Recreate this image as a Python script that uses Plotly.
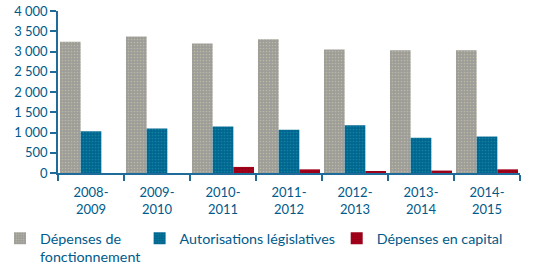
import plotly.graph_objects as go

# fiscal years
years = ['2008-<br>2009', '2009-<br>2010', '2010-<br>2011', '2011-<br>2012',
         '2012-<br>2013', '2013-<br>2014', '2014-<br>2015']

# values
fonctionnement = [3240, 3370, 3200, 3300, 3050, 3030, 3030]
legislatives = [1030, 1100, 1150, 1070, 1180, 870, 900]
capital = [0, 0, 150, 90, 30, 60, 90]

text_col = '#005a8a'
axis_col = '#1f6c9a'
font_name = 'Lato'

fig = go.Figure()
fig.add_trace(go.Bar(x=years, y=fonctionnement, name='Dépenses de<br>fonctionnement',
                     legend='legend',
                     marker=dict(color='#9d9c98', line_width=0,
                                 pattern=dict(shape='.', fgcolor='#d8d6b0', size=3, solidity=0.25))))
fig.add_trace(go.Bar(x=years, y=legislatives, name='Autorisations législatives',
                     legend='legend2',
                     marker=dict(color='#006690', line_width=0,
                                 pattern=dict(shape='.', fgcolor='#2a9ab0', size=3, solidity=0.25))))
fig.add_trace(go.Bar(x=years, y=capital, name='Dépenses en capital',
                     legend='legend3',
                     marker=dict(color='#a3001a', line_width=0,
                                 pattern=dict(shape='.', fgcolor='#70000f', size=3, solidity=0.25))))

# one legend per trace so each entry can sit where the original has it
leg = dict(orientation='h', xref='container', yref='container', xanchor='left',
           y=0.2, yanchor='top', valign='top',
           font=dict(size=14.3, color=text_col), bgcolor='rgba(0,0,0,0)')

fig.update_layout(
    width=537, height=278,
    margin=dict(l=58, r=17, t=11, b=105),
    paper_bgcolor='white', plot_bgcolor='white',
    barmode='group', bargap=0.06, bargroupgap=0,
    separators=', ',
    font=dict(family=font_name, size=13, color=text_col),
    showlegend=True,
    legend=dict(leg, x=-0.019),
    legend2=dict(leg, x=0.26),
    legend3=dict(leg, x=0.627),
)
fig.update_xaxes(showline=True, linecolor=axis_col, linewidth=1.5,
                 ticks='outside', tickson='boundaries', ticklen=6, tickcolor=axis_col,
                 tickwidth=1.5, showgrid=False, automargin=False, ticklabelstandoff=7,
                 tickfont=dict(size=13, color=text_col))
fig.update_yaxes(range=[0, 4000], dtick=500, tickformat=',d',
                 showline=True, linecolor=axis_col, linewidth=1.5,
                 ticks='outside', ticklen=6, tickcolor=axis_col, tickwidth=1.5,
                 showgrid=False, zeroline=False, automargin=False,
                 tickfont=dict(size=13, color=text_col))

# the page body has a default 8px margin, drop it so the figure sits at 0,0
fig.write_html('out.html', config={'displayModeBar': False},
               post_script="document.body.style.margin='0';")
